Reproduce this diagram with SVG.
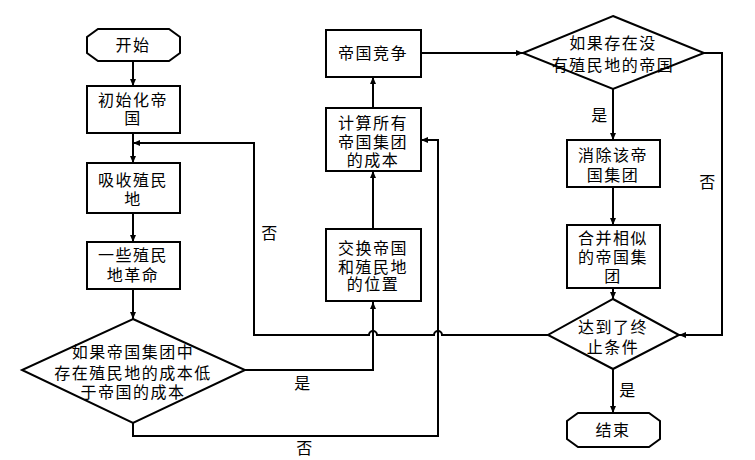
<svg xmlns="http://www.w3.org/2000/svg" width="755" height="460" viewBox="0 0 755 460">
<style>
.s{fill:#fff;stroke:#000;stroke-width:2}
.c{fill:none;stroke:#000;stroke-width:2}
text{font-family:"Liberation Serif","Noto Sans CJK SC",serif;font-size:16px;letter-spacing:1.5px;fill:#000;text-anchor:middle}
</style>
<defs>
<marker id="a" markerUnits="userSpaceOnUse" markerWidth="8" markerHeight="7" refX="7" refY="3" orient="auto">
<path d="M0,0 L7,3 L0,6 Z" fill="#000"/>
</marker>
</defs>
<rect width="755" height="460" fill="#fff"/>
<g id="connectors">
<path class="c" d="M133,61 V86" marker-end="url(#a)"/>
<path class="c" d="M133,133 V163" marker-end="url(#a)"/>
<path class="c" d="M133,213 V242" marker-end="url(#a)"/>
<path class="c" d="M133,289 V319" marker-end="url(#a)"/>
<path class="c" d="M245,370 H373 V302" marker-end="url(#a)"/>
<path class="c" d="M133,423 V436 H438 V140 H421" marker-end="url(#a)"/>
<path class="c" d="M373,229 V171" marker-end="url(#a)"/>
<path class="c" d="M373,108 V77" marker-end="url(#a)"/>
<path class="c" d="M421,53 H523" marker-end="url(#a)"/>
<path class="c" d="M613,89 V140" marker-end="url(#a)"/>
<path class="c" d="M613,187 V225" marker-end="url(#a)"/>
<path class="c" d="M613,288 V299" marker-end="url(#a)"/>
<path class="c" d="M613,369 V413" marker-end="url(#a)"/>
<path class="c" d="M704,53 H722 V335 H679" marker-end="url(#a)"/>
<path class="c" d="M548,335 H442 A4,4 0 0 0 434,335 H377 A4,4 0 0 0 369,335 H254 V143 H133" marker-end="url(#a)"/>
<text x="303" y="389">是</text>
<text x="305" y="454">否</text>
<text x="270" y="239">否</text>
<text x="600" y="121">是</text>
<text x="708" y="188">否</text>
<text x="628" y="396">是</text>
</g>
<g id="start">
<path class="s" d="M98,29 H169 L180,37 V53 L169,61 H98 L87,53 V37 Z"/>
<text x="133" y="51">开始</text>
</g>
<g id="init">
<rect class="s" x="87" y="86" width="93" height="47"/>
<text x="133" y="106">初始化帝</text>
<text x="133" y="124">国</text>
</g>
<g id="absorb">
<rect class="s" x="87" y="163" width="93" height="50"/>
<text x="133" y="186">吸收殖民</text>
<text x="133" y="205">地</text>
</g>
<g id="revolt">
<rect class="s" x="87" y="242" width="93" height="47"/>
<text x="133" y="261">一些殖民</text>
<text x="133" y="281">地革命</text>
</g>
<g id="cond1">
<path class="s" d="M133,319 L245,370 L133,423 L22,370 Z"/>
<text x="133" y="358">如果帝国集团中</text>
<text x="133" y="379">存在殖民地的成本低</text>
<text x="133" y="398">于帝国的成本</text>
</g>
<g id="exchange">
<rect class="s" x="326" y="229" width="95" height="72"/>
<text x="373" y="254">交换帝国</text>
<text x="373" y="273">和殖民地</text>
<text x="373" y="290">的位置</text>
</g>
<g id="cost">
<rect class="s" x="326" y="108" width="95" height="63"/>
<text x="373" y="129">计算所有</text>
<text x="373" y="148">帝国集团</text>
<text x="373" y="166">的成本</text>
</g>
<g id="compete">
<rect class="s" x="326" y="30" width="95" height="47"/>
<text x="373" y="59">帝国竞争</text>
</g>
<g id="cond2">
<path class="s" d="M613,16 L704,53 L613,89 L523,53 Z"/>
<text x="613" y="49">如果存在没</text>
<text x="613" y="71">有殖民地的帝国</text>
</g>
<g id="eliminate">
<rect class="s" x="567" y="140" width="93" height="47"/>
<text x="613" y="161">消除该帝</text>
<text x="613" y="181">国集团</text>
</g>
<g id="merge">
<rect class="s" x="567" y="225" width="93" height="63"/>
<text x="613" y="244">合并相似</text>
<text x="613" y="263">的帝国集</text>
<text x="613" y="282">团</text>
</g>
<g id="cond3">
<path class="s" d="M613,299 L679,335 L613,369 L548,335 Z"/>
<text x="613" y="333">达到了终</text>
<text x="613" y="353">止条件</text>
</g>
<g id="end">
<path class="s" d="M578,413 H649 L660,421 V439 L649,447 H578 L567,439 V421 Z"/>
<text x="613" y="436">结束</text>
</g>
</svg>
